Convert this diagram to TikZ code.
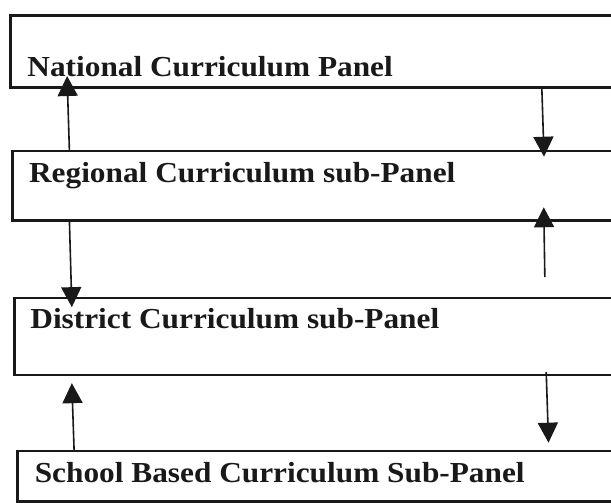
\documentclass[tikz,border=0pt]{standalone}
\usepackage{fontspec}
\setmainfont{Liberation Serif}
\usetikzlibrary{arrows.meta,calc}
\begin{document}
\begin{tikzpicture}[x=1pt,y=-1pt,
  panel/.style={draw=black!90, line width=2.8pt, rectangle, anchor=north west, minimum width=680pt, inner sep=0pt, outer sep=0pt},
  label/.style={anchor=base west, inner sep=0pt, xscale=1.08, font=\fontsize{29}{34}\selectfont\bfseries, text=black!90},
  flow/.style={draw=black!90, line width=1.6pt, -{Triangle[length=20pt,width=20pt]}}]
\useasboundingbox (0,0) rectangle (611,503);
\clip (0,0) rectangle (611,503);
\fill[white] (0,0) rectangle (611,503);
\begin{scope}[rotate around={0.9:(305.5,251.5)}]
  \node[panel, minimum height=72pt] (n1) at (14,11) {};
  \node[panel, minimum height=69.5pt] (n2) at (14,146.5) {};
  \node[panel, minimum height=77pt] (n3) at (14,293.5) {};
  \node[panel, minimum height=50.5pt] (n4) at (14,446.5) {};
  \node[label] (t1) at (30,72) {National Curriculum Panel};
  \node[label] (t2) at (30,178) {Regional Curriculum sub-Panel};
  \node[label] (t3) at (29,324) {District Curriculum sub-Panel};
  \node[label] (t4) at (31,478) {School Based Curriculum Sub-Panel};
  % left column
  \draw[flow] ($(n2.north west)+(57,0)$) -- ($(n1.south west)+(57,-10.7)$);
  \draw[flow] ($(n2.south west)+(57,0)$) -- ($(n3.north west)+(57,10)$);
  \draw[flow] ($(n4.north west)+(57,0)$) -- ($(n3.south west)+(57,9)$);
  % right column
  \draw[flow] ($(n1.south west)+(531.5,8.7)$) -- ($(n2.north west)+(531.5,14)$);
  \draw[flow] ($(n2.south west)+(531.5,64.8)$) -- ($(n2.south west)+(531.5,-5)$);
  \draw[flow] ($(n3.south west)+(531.5,5.3)$) -- ($(n4.north west)+(531.5,0)$);
\end{scope}
\end{tikzpicture}
\end{document}
